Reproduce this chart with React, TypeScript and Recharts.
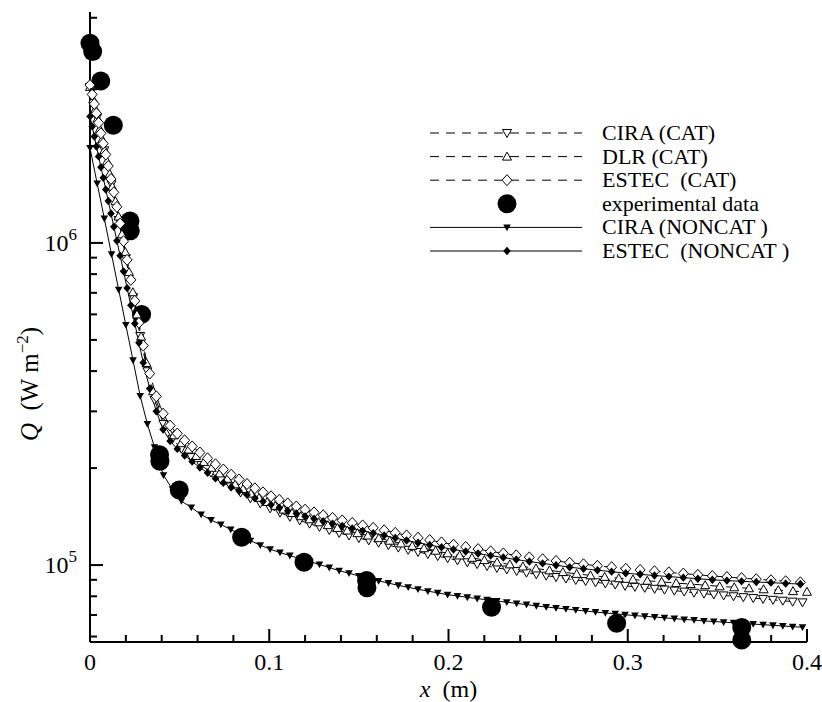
import React from 'react';
import { ComposedChart, Line, Scatter, XAxis, YAxis, Legend, Label } from 'recharts';

// ESTEC grid, catalytic and non-catalytic runs share it
const estecX = [
  0, 0.0012, 0.0024, 0.0036, 0.0048, 0.0061, 0.0074, 0.0088, 0.0102, 0.0117,
  0.0133, 0.015, 0.0168, 0.0187, 0.0207, 0.0228, 0.025, 0.0273, 0.0297, 0.0333,
  0.037, 0.0408, 0.0447, 0.0487, 0.0528, 0.057, 0.0613, 0.0656, 0.07, 0.0744,
  0.0788, 0.0832, 0.0876, 0.092, 0.0965, 0.101, 0.1056, 0.1103, 0.1151, 0.12,
  0.125, 0.1301, 0.1353, 0.1407, 0.1463, 0.1521, 0.158, 0.1641, 0.1703, 0.1766,
  0.183, 0.1895, 0.1961, 0.2028, 0.2096, 0.2165, 0.2235, 0.2306, 0.2378, 0.2451,
  0.2525, 0.26, 0.2676, 0.2753, 0.2831, 0.291, 0.2989, 0.3069, 0.3149, 0.3229,
  0.331, 0.3391, 0.3472, 0.3553, 0.3635, 0.3717, 0.3799, 0.3881, 0.3963,
];
const estecCatQ = [
  3.09e6, 2.89e6, 2.7e6, 2.525e6, 2.36e6, 2.19e6, 2.035e6, 1.88e6, 1.733e6, 1.58e6,
  1.436e6, 1.294e6, 1.149e6, 1.0125e6, 8.86e5, 7.68e5, 6.61e5, 5.65e5, 4.8e5, 3.93e5,
  3.34e5, 2.95e5, 2.71e5, 2.56e5, 2.44e5, 2.335e5, 2.236e5, 2.145e5, 2.056e5, 1.98e5,
  1.907e5, 1.844e5, 1.785e5, 1.731e5, 1.682e5, 1.635e5, 1.594e5, 1.554e5, 1.52e5, 1.486e5,
  1.457e5, 1.428e5, 1.401e5, 1.376e5, 1.352e5, 1.328e5, 1.305e5, 1.282e5, 1.259e5, 1.236e5,
  1.216e5, 1.196e5, 1.176e5, 1.157e5, 1.139e5, 1.121e5, 1.103e5, 1.087e5, 1.072e5, 1.057e5,
  1.043e5, 1.03e5, 1.017e5, 1.006e5, 9.95e4, 9.85e4, 9.74e4, 9.66e4, 9.57e4, 9.49e4,
  9.41e4, 9.33e4, 9.25e4, 9.18e4, 9.11e4, 9.04e4, 8.97e4, 8.91e4, 8.84e4,
];
const estecNoncatQ = [
  2.47e6, 2.3e6, 2.139e6, 1.993e6, 1.856e6, 1.719e6, 1.592e6, 1.465e6, 1.349e6, 1.234e6,
  1.123e6, 1.015e6, 9.13e5, 8.16e5, 7.24e5, 6.4e5, 5.62e5, 4.9e5, 4.25e5, 3.53e5,
  3.0e5, 2.634e5, 2.426e5, 2.294e5, 2.189e5, 2.095e5, 2.009e5, 1.933e5, 1.858e5, 1.8e5,
  1.744e5, 1.697e5, 1.652e5, 1.612e5, 1.574e5, 1.538e5, 1.506e5, 1.474e5, 1.445e5, 1.416e5,
  1.392e5, 1.368e5, 1.345e5, 1.322e5, 1.3e5, 1.277e5, 1.256e5, 1.235e5, 1.213e5, 1.192e5,
  1.173e5, 1.154e5, 1.136e5, 1.118e5, 1.102e5, 1.086e5, 1.07e5, 1.055e5, 1.04e5, 1.026e5,
  1.012e5, 9.99e4, 9.85e4, 9.74e4, 9.64e4, 9.54e4, 9.43e4, 9.36e4, 9.28e4, 9.21e4,
  9.14e4, 9.07e4, 9.0e4, 8.95e4, 8.9e4, 8.86e4, 8.82e4, 8.77e4, 8.73e4,
];

const dlrX = [
  0, 0.0018, 0.003, 0.0042, 0.0055, 0.0068, 0.0081, 0.0095, 0.011, 0.0125,
  0.0142, 0.0159, 0.0178, 0.0197, 0.0218, 0.0239, 0.0262, 0.0285, 0.0315, 0.0352,
  0.0389, 0.0428, 0.0467, 0.0508, 0.0549, 0.0592, 0.0635, 0.0678, 0.0722, 0.0766,
  0.081, 0.0854, 0.0898, 0.0943, 0.0988, 0.1033, 0.108, 0.1127, 0.1176, 0.1225,
  0.1276, 0.1327, 0.138, 0.1435, 0.1492, 0.155, 0.1611, 0.1672, 0.1735, 0.1798,
  0.1863, 0.1928, 0.1995, 0.2062, 0.2131, 0.22, 0.2271, 0.2342, 0.2415, 0.2488,
  0.2563, 0.2638, 0.2715, 0.2792, 0.2871, 0.295, 0.3029, 0.3109, 0.3189, 0.327,
  0.3351, 0.3432, 0.3513, 0.3594, 0.3676, 0.3758, 0.384, 0.3922, 0.4,
];
const dlrCatQ = [
  3.05e6, 2.79e6, 2.605e6, 2.434e6, 2.259e6, 2.096e6, 1.944e6, 1.793e6, 1.639e6, 1.494e6,
  1.347e6, 1.208e6, 1.064e6, 9.37e5, 8.12e5, 7.03e5, 6.0e5, 5.12e5, 4.24e5, 3.465e5,
  3.024e5, 2.725e5, 2.528e5, 2.389e5, 2.283e5, 2.181e5, 2.09e5, 2.004e5, 1.925e5, 1.853e5,
  1.781e5, 1.723e5, 1.667e5, 1.617e5, 1.57e5, 1.527e5, 1.487e5, 1.451e5, 1.418e5, 1.387e5,
  1.358e5, 1.33e5, 1.304e5, 1.28e5, 1.256e5, 1.235e5, 1.212e5, 1.19e5, 1.167e5, 1.147e5,
  1.128e5, 1.108e5, 1.088e5, 1.071e5, 1.053e5, 1.036e5, 1.019e5, 1.005e5, 9.9e4, 9.76e4,
  9.63e4, 9.51e4, 9.39e4, 9.29e4, 9.19e4, 9.1e4, 9.02e4, 8.94e4, 8.87e4, 8.79e4,
  8.73e4, 8.66e4, 8.59e4, 8.53e4, 8.47e4, 8.41e4, 8.36e4, 8.3e4, 8.26e4,
];

// CIRA grid, catalytic and non-catalytic runs share it
const ciraX = [
  0, 0.004, 0.008, 0.012, 0.016, 0.02, 0.024, 0.028, 0.032, 0.036,
  0.041, 0.046, 0.051, 0.0565, 0.062, 0.0675, 0.073, 0.0785, 0.084, 0.0895,
  0.095, 0.1005, 0.106, 0.1115, 0.117, 0.1225, 0.128, 0.1335, 0.139, 0.1445,
  0.15, 0.1555, 0.161, 0.1665, 0.172, 0.1775, 0.183, 0.1885, 0.194, 0.1995,
  0.205, 0.2105, 0.216, 0.2215, 0.227, 0.2325, 0.238, 0.2435, 0.249, 0.2545,
  0.26, 0.2655, 0.271, 0.2765, 0.282, 0.2875, 0.293, 0.2985, 0.304, 0.3095,
  0.315, 0.3205, 0.326, 0.3315, 0.337, 0.3425, 0.348, 0.3535, 0.359, 0.3645,
  0.37, 0.3755, 0.381, 0.3865, 0.392, 0.3975,
];
const ciraCatQ = [
  3.05e6, 2.45e6, 1.938e6, 1.52e6, 1.178e6, 8.97e5, 6.79e5, 5.14e5, 3.996e5, 3.256e5,
  2.742e5, 2.464e5, 2.297e5, 2.163e5, 2.044e5, 1.936e5, 1.839e5, 1.753e5, 1.679e5, 1.611e5,
  1.554e5, 1.499e5, 1.454e5, 1.412e5, 1.376e5, 1.344e5, 1.314e5, 1.284e5, 1.258e5, 1.235e5,
  1.213e5, 1.193e5, 1.173e5, 1.153e5, 1.133e5, 1.115e5, 1.098e5, 1.082e5, 1.066e5, 1.05e5,
  1.034e5, 1.02e5, 1.007e5, 9.93e4, 9.8e4, 9.69e4, 9.58e4, 9.47e4, 9.36e4, 9.27e4,
  9.18e4, 9.08e4, 8.99e4, 8.92e4, 8.84e4, 8.77e4, 8.7e4, 8.62e4, 8.56e4, 8.5e4,
  8.44e4, 8.39e4, 8.33e4, 8.27e4, 8.21e4, 8.15e4, 8.1e4, 8.05e4, 8.0e4, 7.95e4,
  7.9e4, 7.85e4, 7.8e4, 7.75e4, 7.7e4, 7.66e4,
];
const ciraNoncatQ = [
  1.97e6, 1.53e6, 1.19e6, 9.22e5, 7.16e5, 5.56e5, 4.32e5, 3.35e5, 2.74e5, 2.32e5,
  1.9e5, 1.72e5, 1.58e5, 1.51e5, 1.435e5, 1.38e5, 1.336e5, 1.29e5, 1.24e5, 1.19e5,
  1.153e5, 1.12e5, 1.094e5, 1.07e5, 1.047e5, 1.025e5, 1.004e5, 9.82e4, 9.61e4, 9.43e4,
  9.25e4, 9.08e4, 8.93e4, 8.79e4, 8.65e4, 8.53e4, 8.41e4, 8.3e4, 8.2e4, 8.09e4,
  8.02e4, 7.94e4, 7.87e4, 7.8e4, 7.73e4, 7.67e4, 7.6e4, 7.54e4, 7.47e4, 7.41e4,
  7.36e4, 7.31e4, 7.25e4, 7.2e4, 7.15e4, 7.1e4, 7.06e4, 7.01e4, 6.97e4, 6.93e4,
  6.9e4, 6.86e4, 6.82e4, 6.78e4, 6.75e4, 6.71e4, 6.68e4, 6.65e4, 6.62e4, 6.59e4,
  6.56e4, 6.53e4, 6.5e4, 6.47e4, 6.44e4, 6.41e4,
];

// measured heat flux
const expX = [0, 0.0015, 0.006, 0.013, 0.0223, 0.0225, 0.0288, 0.0388, 0.039, 0.0498, 0.0846, 0.1194, 0.1543, 0.1545, 0.224, 0.2938, 0.3636, 0.3636];
const expQ = [4.17e6, 3.93e6, 3.18e6, 2.32e6, 1.17e6, 1.09e6, 6.0e5, 2.2e5, 2.1e5, 1.71e5, 1.22e5, 1.02e5, 8.95e4, 8.5e4, 7.4e4, 6.6e4, 6.4e4, 5.85e4];

const xTicks = [0, 0.02, 0.04, 0.06, 0.08, 0.1, 0.12, 0.14, 0.16, 0.18, 0.2, 0.22, 0.24, 0.26, 0.28, 0.3, 0.32, 0.34, 0.36, 0.38, 0.4];
const xMajor = [0, 0.1, 0.2, 0.3, 0.4];
const yTicks = [6e4, 7e4, 8e4, 9e4, 1e5, 2e5, 3e5, 4e5, 5e5, 6e5, 7e5, 8e5, 9e5, 1e6, 2e6, 3e6, 4e6, 5e6];
const yMajor = [1e5, 1e6];

const legendRows = [
  { label: 'CIRA (CAT)', kind: 'triDownOpen', line: 'dash' },
  { label: 'DLR (CAT)', kind: 'triUpOpen', line: 'dash' },
  { label: 'ESTEC  (CAT)', kind: 'diamondOpen', line: 'dash' },
  { label: 'experimental data', kind: 'circle', line: 'none' },
  { label: 'CIRA (NONCAT )', kind: 'triDownFill', line: 'solid' },
  { label: 'ESTEC  (NONCAT )', kind: 'diamondFill', line: 'solid' },
];

const zip = (xs: number[], qs: number[]) => xs.map((x, i) => ({ x, q: qs[i] }));
const estecCat = zip(estecX, estecCatQ);
const estecNoncat = zip(estecX, estecNoncatQ);
const dlrCat = zip(dlrX, dlrCatQ);
const ciraCat = zip(ciraX, ciraCatQ);
const ciraNoncat = zip(ciraX, ciraNoncatQ);
const experiment = zip(expX, expQ);

const SERIF = '"Liberation Serif", "Times New Roman", serif';
const DASH = '9 7';

function Marker({ kind, cx, cy }: { kind: string; cx: number; cy: number }) {
  switch (kind) {
    case 'triDownOpen':
      return <polygon points={`${cx - 4.5},${cy - 3.5} ${cx + 4.5},${cy - 3.5} ${cx},${cy + 4.5}`} fill="#fff" stroke="#000" strokeWidth={1} />;
    case 'triUpOpen':
      return <polygon points={`${cx - 4.5},${cy + 3.5} ${cx + 4.5},${cy + 3.5} ${cx},${cy - 4.5}`} fill="#fff" stroke="#000" strokeWidth={1} />;
    case 'diamondOpen':
      return <polygon points={`${cx},${cy - 5.5} ${cx + 5},${cy} ${cx},${cy + 5.5} ${cx - 5},${cy}`} fill="#fff" stroke="#000" strokeWidth={1} />;
    case 'diamondFill':
      return <polygon points={`${cx},${cy - 4.2} ${cx + 3.8},${cy} ${cx},${cy + 4.2} ${cx - 3.8},${cy}`} fill="#000" />;
    case 'triDownFill':
      return <polygon points={`${cx - 3.8},${cy - 3} ${cx + 3.8},${cy - 3} ${cx},${cy + 3.8}`} fill="#000" />;
    case 'circle':
      return <circle cx={cx} cy={cy} r={9.5} fill="#000" />;
    default:
      return null;
  }
}

const dotOf = (kind: string) => (p: any) => <Marker key={`${kind}-${p.index}`} kind={kind} cx={p.cx} cy={p.cy} />;

const XTick = (props: any) => {
  const { x, y, payload } = props;
  const v = payload.value;
  const major = xMajor.some((m) => Math.abs(m - v) < 1e-9);
  return (
    <g>
      {v > 0 && <line x1={x} x2={x} y1={y} y2={y - (major ? 13 : 7)} stroke="#000" strokeWidth={2} />}
      {major && (
        <text x={x} y={y + 28} textAnchor="middle" fontSize={24} fontFamily={SERIF} fill="#000">
          {String(v)}
        </text>
      )}
    </g>
  );
};

const YTick = (props: any) => {
  const { x, y, payload } = props;
  const v = payload.value;
  const major = yMajor.some((m) => Math.abs(m - v) < 1);
  return (
    <g>
      <line x1={x} x2={x + (major ? 13 : 7)} y1={y} y2={y} stroke="#000" strokeWidth={2} />
      {major && (
        <text x={x - 13} y={y + 8} textAnchor="end" fontSize={24} fontFamily={SERIF} fill="#000">
          10
          <tspan dy={-11} fontSize={17}>{Math.round(Math.log10(v))}</tspan>
        </text>
      )}
    </g>
  );
};

const LegendBox = () => (
  <svg width={400} height={150} style={{ display: 'block', overflow: 'visible' }}>
    {legendRows.map((r, i) => {
      const y = 15 + i * 23.6;
      return (
        <g key={r.label}>
          {r.line !== 'none' && (
            <line x1={10} x2={162} y1={y} y2={y} stroke="#000" strokeWidth={1} strokeDasharray={r.line === 'dash' ? DASH : undefined} />
          )}
          <Marker kind={r.kind} cx={87} cy={y} />
          <text x={182} y={y + 7} fontSize={22} fontFamily={SERIF} fill="#000" style={{ whiteSpace: 'pre' }}>
            {r.label}
          </text>
        </g>
      );
    })}
  </svg>
);

export default function App() {
  return (
    <div style={{ position: 'absolute', left: 0, top: 0, background: '#fff' }}>
      <ComposedChart width={822} height={702} margin={{ top: 12, right: 15, left: 0, bottom: 0 }}>
        <XAxis
          type="number"
          dataKey="x"
          domain={[0, 0.4]}
          ticks={xTicks}
          interval={0}
          height={60}
          tickLine={false}
          tickSize={0}
          tickMargin={0}
          axisLine={{ stroke: '#000', strokeWidth: 2 }}
          tick={<XTick />}
        >
          <Label
            content={(p: any) => (
              <text x={p.viewBox.x + p.viewBox.width / 2} y={p.viewBox.y + 55} textAnchor="middle" fontSize={24} fontFamily={SERIF} fill="#000" style={{ whiteSpace: 'pre' }}>
                <tspan fontStyle="italic">x</tspan>
                <tspan>{'  (m)'}</tspan>
              </text>
            )}
          />
        </XAxis>
        <YAxis
          type="number"
          dataKey="q"
          scale="log"
          domain={[57700, 5210000]}
          ticks={yTicks}
          interval={0}
          width={90}
          tickLine={false}
          tickSize={0}
          tickMargin={0}
          axisLine={{ stroke: '#000', strokeWidth: 2 }}
          tick={<YTick />}
        >
          <Label
            content={() => (
              <text transform="rotate(-90)" x={-384} y={38} textAnchor="middle" fontSize={25} fontFamily={SERIF} fill="#000" style={{ whiteSpace: 'pre' }}>
                <tspan fontStyle="italic">Q</tspan>
                <tspan>{'  (W m'}</tspan>
                <tspan dy={-10} fontSize={17}>{'\u22122'}</tspan>
                <tspan dy={10}>)</tspan>
              </text>
            )}
          />
        </YAxis>
        <Legend
          layout="vertical"
          align="center"
          verticalAlign="middle"
          content={() => <LegendBox />}
          wrapperStyle={{ position: 'absolute', left: 420, top: 118, width: 400, height: 150, margin: 0, padding: 0, lineHeight: 0 }}
        />
        <Line data={ciraCat} dataKey="q" stroke="#000" strokeWidth={1} strokeDasharray={DASH} dot={dotOf('triDownOpen')} activeDot={false} isAnimationActive={false} legendType="none" />
        <Line data={dlrCat} dataKey="q" stroke="#000" strokeWidth={1} strokeDasharray={DASH} dot={dotOf('triUpOpen')} activeDot={false} isAnimationActive={false} legendType="none" />
        <Line data={estecCat} dataKey="q" stroke="#000" strokeWidth={1} strokeDasharray={DASH} dot={dotOf('diamondOpen')} activeDot={false} isAnimationActive={false} legendType="none" />
        <Line data={estecNoncat} dataKey="q" stroke="#000" strokeWidth={1} dot={dotOf('diamondFill')} activeDot={false} isAnimationActive={false} legendType="none" />
        <Line data={ciraNoncat} dataKey="q" stroke="#000" strokeWidth={1} dot={dotOf('triDownFill')} activeDot={false} isAnimationActive={false} legendType="none" />
        <Scatter data={experiment} dataKey="q" shape={(p: any) => <Marker kind="circle" cx={p.cx} cy={p.cy} />} isAnimationActive={false} legendType="none" />
      </ComposedChart>
    </div>
  );
}
